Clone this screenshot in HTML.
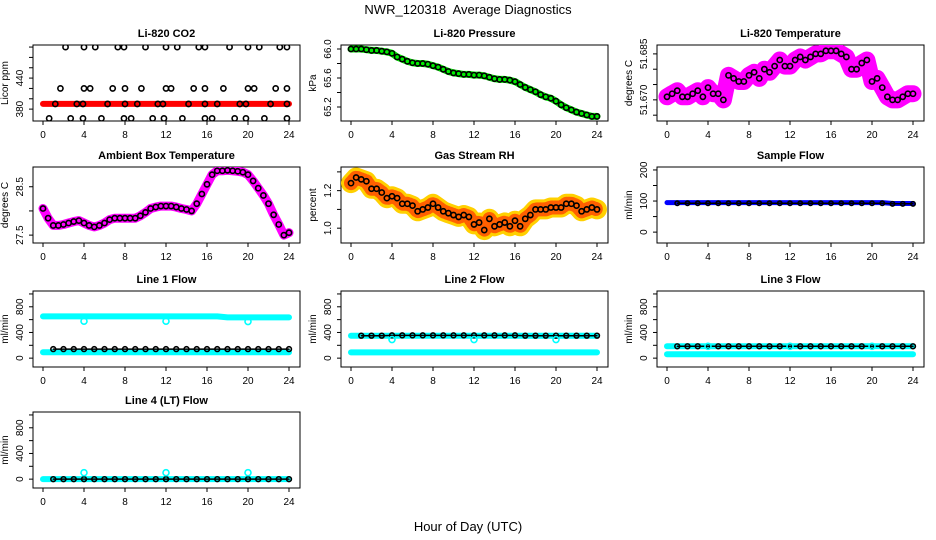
<!DOCTYPE html>
<html><head><meta charset="utf-8"><style>
body{margin:0;background:#fff;}
svg{display:block;font-family:"Liberation Sans",Arial,sans-serif;}
</style></head><body>
<svg id="c" width="936" height="540" viewBox="0 0 936 540">
<text x="468" y="14" text-anchor="middle" font-size="13">NWR_120318&#160; Average Diagnostics</text>
<text x="468" y="531" text-anchor="middle" font-size="13">Hour of Day (UTC)</text>
</svg>
<script>
// ---- data ----
const hours = [0,4,8,12,16,20,24];
const pressure = [66.00,66.00,66.00,65.99,65.98,65.98,65.97,65.96,65.94,65.89,65.86,65.83,65.81,65.80,65.80,65.79,65.77,65.75,65.72,65.69,65.67,65.66,65.65,65.65,65.64,65.64,65.63,65.61,65.59,65.58,65.58,65.57,65.55,65.51,65.47,65.44,65.41,65.37,65.34,65.32,65.28,65.23,65.19,65.16,65.13,65.11,65.09,65.07,65.07];
const licorTemp = [51.671,51.672,51.673,51.671,51.671,51.672,51.673,51.671,51.674,51.672,51.672,51.670,51.678,51.677,51.676,51.676,51.678,51.679,51.677,51.680,51.679,51.681,51.683,51.681,51.681,51.683,51.684,51.683,51.684,51.685,51.685,51.686,51.686,51.686,51.685,51.684,51.680,51.680,51.682,51.683,51.676,51.677,51.674,51.671,51.670,51.670,51.671,51.672,51.672];
const ambientTemp = [28.05,27.85,27.70,27.70,27.72,27.75,27.78,27.80,27.75,27.70,27.67,27.70,27.75,27.82,27.85,27.85,27.85,27.85,27.85,27.90,27.97,28.05,28.08,28.10,28.10,28.10,28.08,28.05,28.03,28.00,28.15,28.35,28.55,28.75,28.83,28.83,28.84,28.83,28.82,28.80,28.75,28.62,28.47,28.32,28.15,27.92,27.72,27.50,27.55];
const gasRH = [1.24,1.27,1.26,1.25,1.21,1.21,1.19,1.16,1.17,1.16,1.13,1.13,1.12,1.09,1.10,1.11,1.13,1.11,1.09,1.08,1.07,1.06,1.07,1.06,1.02,1.03,0.99,1.05,1.01,1.02,1.03,1.01,1.04,1.01,1.05,1.07,1.10,1.10,1.10,1.11,1.11,1.11,1.13,1.13,1.12,1.09,1.10,1.11,1.10];
const co2Red = [390,390,390,390,390,390,390,390,390,390,390,390,390,390,390,390,390,390,390,390,390,390,390,390,390];
const co2Times = [2.2,4,5.1,7.3,7.9,10,12,13.1,15.2,15.8,18.2,20,21.1,23.1,23.8, 1.7,4,4.6,6.8,8,9.6,12,12.5,14.7,15.8,17.6,20,20.6,22.7,23.8, 1.2,3.3,3.9,6.3,8,9.2,11.2,11.7,14.2,15.8,17,19.2,19.8,22.2,23.8, 0.6,2.7,3.9,5.7,7.9,8.6,10.7,11.8,13.6,15.8,16.5,18.7,19.8,21.6,23.8];
const co2Values = [500,500,500,500,500,500,500,500,500,500,500,500,500,500,500, 420,420,420,420,420,420,420,420,420,420,420,420,420,420,420, 390,390,390,390,390,390,390,390,390,390,390,390,390,390,390, 362,362,362,362,362,362,362,362,362,362,362,362,362,362,362];
const sampleBlue = [95,95,95,95,95,95,95,95,95,95,95,95,95,95,95,95,95,95,95,95,95,95,92,92,92];
const sampleBlack = [null,93,93,93,93,93,93,93,93,93,93,93,93,93,93,93,93,93,93,93,93,93,91,91,91];
const line1CyanHi = [650,650,650,650,650,650,650,650,650,650,650,650,650,650,650,650,650,650,635,635,635,635,635,635,635];
const line1CyanLo = [92,92,92,92,92,92,92,92,92,92,92,92,92,92,92,92,92,92,92,92,92,92,92,92,92];
const line1Black = [null,141,141,141,141,141,141,141,141,141,141,141,141,141,141,141,141,141,141,141,141,141,141,141,141];
const line1Dips = [575,575,570];
const line2CyanHi = [350,350,350,350,350,350,350,350,350,350,350,350,350,350,350,350,350,350,350,350,350,350,350,350,350];
const line2CyanLo = [90,90,90,90,90,90,90,90,90,90,90,90,90,90,90,90,90,90,90,90,90,90,90,90,90];
const line2Black = [null,350,350,350,355,355,355,355,355,355,355,355,355,355,355,355,355,350,350,350,350,350,350,350,350];
const line2Dips = [290,290,290];
const line3CyanHi = [185,185,185,185,185,185,185,185,185,185,185,185,185,185,185,185,185,185,185,185,185,185,185,185,185];
const line3CyanLo = [60,60,60,60,60,60,60,60,60,60,60,60,60,60,60,60,60,60,60,60,60,60,60,60,60];
const line3Black = [null,185,185,185,185,185,185,185,185,185,185,185,185,185,185,185,185,185,185,185,185,185,185,185,185];
const line3Dips = [185,185,185];
const line4Cyan = [0,0,0,0,0,0,0,0,0,0,0,0,0,0,0,0,0,0,0,0,0,0,0,0,0];
const line4Black = [null,0,0,0,0,0,0,0,0,0,0,0,0,0,0,0,0,0,0,0,0,0,0,0,0];
const line4Dips = [100,100,100];
const dipTimes = [4,12,20];

// ---- drawing ----
const NS="http://www.w3.org/2000/svg";
const svg=document.getElementById('c');
function mk(tag,attrs,parent){const e=document.createElementNS(NS,tag);for(const k in attrs)e.setAttribute(k,attrs[k]);(parent||svg).appendChild(e);return e;}
const colL=[33,341,657], rowT=[45,167,291,412], W=267, H=76;

function panel(name,title,ylab,col,row,ymin,ymax,ticks,labels){
  const g=mk('g',{});
  
  
  const L=colL[col],T=rowT[row];
  const xs=t=>L+10+t*246/24;
  const ys=v=>T+H-(v-ymin)/(ymax-ymin)*H;
  const r=mk('rect',{x:L,y:T,width:W,height:H,fill:'none',stroke:'#000','stroke-width':1},g);
  
  
  const tt=mk('text',{x:L+W/2,y:T-8,'text-anchor':'middle','font-size':11,'font-weight':'bold'},g);
  tt.textContent=title;
  
  
  const yl=mk('text',{x:0,y:0,'text-anchor':'middle','font-size':10,transform:`translate(${L-25},${T+H/2}) rotate(-90)`},g);
  yl.textContent=ylab;
  
  
  const B=T+H;
  mk('line',{x1:xs(0),x2:xs(24),y1:B,y2:B,stroke:'#000'},g);
  hours.forEach(h=>{
    mk('line',{x1:xs(h),x2:xs(h),y1:B,y2:B+4,stroke:'#000'},g);
    const t=mk('text',{x:xs(h),y:B+17,'text-anchor':'middle','font-size':10},g);
    t.textContent=h;
    
    
  });
  mk('line',{x1:L,x2:L,y1:ys(ticks[0]),y2:ys(ticks[ticks.length-1]),stroke:'#000'},g);
  ticks.forEach(v=>mk('line',{x1:L-4,x2:L,y1:ys(v),y2:ys(v),stroke:'#000'},g));
  labels.forEach(v=>{
    const t=mk('text',{x:0,y:0,'text-anchor':'middle','font-size':10,transform:`translate(${L-10},${ys(v)}) rotate(-90)`},g);
    t.textContent=v;
    
    
  });
  const clip='cp'+name;
  const cp=mk('clipPath',{id:clip},g);mk('rect',{x:L,y:T,width:W,height:H},cp);
  const pg=mk('g',{'clip-path':`url(#${clip})`},g);
  return {xs,ys,g:pg};
}
function band(p,arr,step,color,w,nm,dash){
  let d='';arr.forEach((v,i)=>{if(v==null)return;d+=(d?'L':'M')+p.xs(i*step).toFixed(1)+','+p.ys(v).toFixed(1);});
  const e=mk('path',{d,fill:'none',stroke:color,'stroke-width':w,'stroke-linecap':'round','stroke-linejoin':'round'},p.g);
  if(dash)e.setAttribute('stroke-dasharray',dash);
  
  
}
function pts(p,times,vals,color,nm,rad){
  vals.forEach((v,i)=>{if(v==null)return;
    const c=mk('circle',{cx:p.xs(times[i]),cy:p.ys(v),r:rad||2.6,fill:'none',stroke:color,'stroke-width':1.6},p.g);
    
    
  });
}
const half=pressure.map((_,i)=>i*0.5), hr=co2Red.map((_,i)=>i);

let p=panel('co2-panel','Li-820 CO2','Licor ppm',0,0,357,504,[380,400,420,440,460,480,500],[380,440]);
band(p,co2Red,1,'#ff0000',6,'co2-red-band');
pts(p,co2Times,co2Values,'#000','co2-point');

p=panel('pressure-panel','Li-820 Pressure','kPa',1,0,65.007,66.055,[65.2,65.4,65.6,65.8,66.0],['65.2','65.6','66.0']);
band(p,pressure,0.5,'#00ee00',7,'pressure-green-band');
pts(p,half,pressure,'#000','pressure-point');

p=panel('licor-temp-panel','Li-820 Temperature','degrees C',2,0,51.6631,51.6879,[51.665,51.670,51.675,51.680,51.685],['51.670','51.685']);
band(p,licorTemp,0.5,'#ff00ff',17,'licor-temp-magenta-band');
pts(p,half,licorTemp,'#000','licor-temp-point');

p=panel('ambient-temp-panel','Ambient Box Temperature','degrees C',0,1,27.337,28.908,[27.5,28.0,28.5],['27.5','28.5']);
band(p,ambientTemp,0.5,'#ff00ff',9,'ambient-magenta-band');
pts(p,half,ambientTemp,'#000','ambient-point');

p=panel('rh-panel','Gas Stream RH','percent',1,1,0.921,1.326,[1.0,1.1,1.2,1.3],['1.0','1.2']);
band(p,gasRH,0.5,'#ffd000',20,'rh-yellow-band');
band(p,gasRH,0.5,'#ff6000',14,'rh-red-band','1 2');
pts(p,half,gasRH,'#000','rh-point');

p=panel('sample-flow-panel','Sample Flow','ml/min',2,1,-35,209.5,[0,50,100,150,200],[0,100,200]);
band(p,sampleBlue,1,'#0000ff',5,'sample-blue-band');
band(p,sampleBlack,1,'#000',1.5,'sample-black-line');
pts(p,hr,sampleBlack,'#000','sample-point',2.2);

const ft=[0,200,400,600,800,1000], fl=[0,400,800];
function flow(name,title,col,row,hi,lo,blk,dips){
  const q=panel(name,title,'ml/min',col,row,-138,1046,ft,fl);
  band(q,hi,1,'#00ffff',6,name+'-cyan-band');
  if(lo)band(q,lo,1,'#00ffff',6,name+'-cyan-low-band');
  band(q,blk,1,'#000',1.5,name+'-black-line');
  pts(q,hr,blk,'#000',name+'-point',2.4);
  pts(q,dipTimes,dips,'#00ffff',name+'-dip-point',3);
}
flow('line1-flow-panel','Line 1 Flow',0,2,line1CyanHi,line1CyanLo,line1Black,line1Dips);
flow('line2-flow-panel','Line 2 Flow',1,2,line2CyanHi,line2CyanLo,line2Black,line2Dips);
flow('line3-flow-panel','Line 3 Flow',2,2,line3CyanHi,line3CyanLo,line3Black,line3Dips);
flow('line4-flow-panel','Line 4 (LT) Flow',0,3,line4Cyan,null,line4Black,line4Dips);
</script>
</body></html>
